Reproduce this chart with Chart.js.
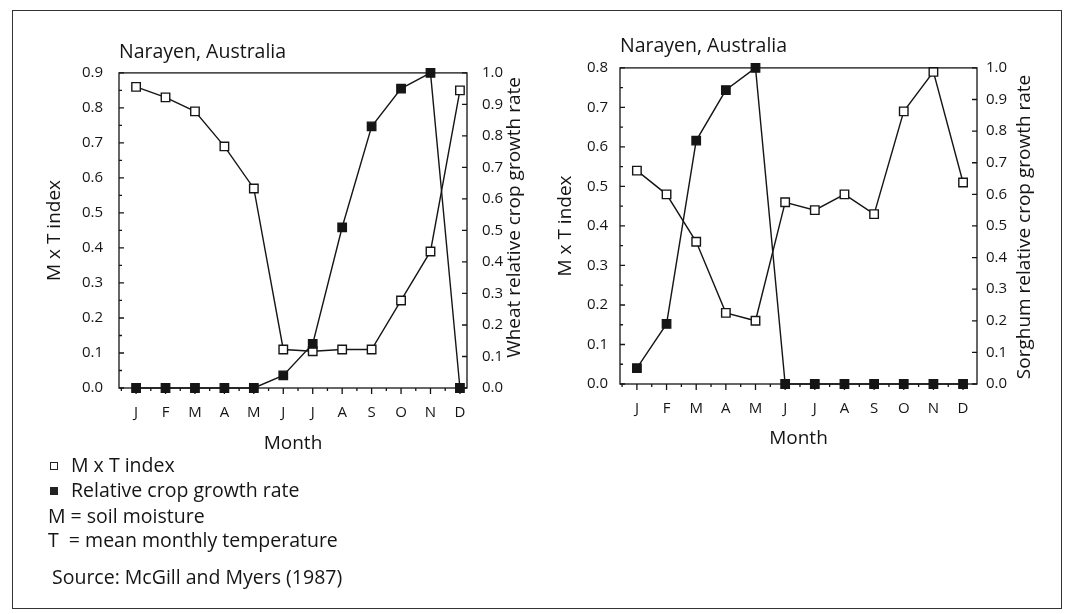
<!DOCTYPE html>
<html>
<head>
<meta charset="utf-8">
<title>Narayen, Australia - M x T index and crop growth rate</title>
<script src="https://cdn.jsdelivr.net/npm/chart.js"></script>
<style>
  body { margin: 0; background: #fff; font-family: "Open Sans", sans-serif; color: #151515; }
  #frame { position: absolute; left: 12px; top: 10px; width: 1050px; height: 599px; border: 1.5px solid #333; box-sizing: border-box; }
  canvas { position: absolute; top: 20px; }
  .note { position: absolute; font-size: 19.5px; line-height: 24px; white-space: pre; }
  .mark { display: inline-block; width: 6px; height: 6px; border: 1.5px solid #222; margin-right: 13px; vertical-align: 2px; }
  .mark.full { background: #222; }
</style>
</head>
<body>
<div id="frame"></div>
<canvas id="wheat" width="520" height="440" style="left:20px"></canvas>
<canvas id="sorghum" width="520" height="440" style="left:540px"></canvas>

<div class="note" style="left:50px; top:453px"><span class="mark"></span>M x T index</div>
<div class="note" style="left:50px; top:478px"><span class="mark full"></span>Relative crop growth rate</div>
<div class="note" style="left:48px; top:504px">M = soil moisture</div>
<div class="note" style="left:48px; top:528px">T  = mean monthly temperature</div>
<div class="note" style="left:52px; top:565px">Source: McGill and Myers (1987)</div>

<script>
// months along the bottom
var months = ['J', 'F', 'M', 'A', 'M', 'J', 'J', 'A', 'S', 'O', 'N', 'D'];

// wheat panel
var wheatMxT = [0.86, 0.83, 0.79, 0.69, 0.57, 0.11, 0.105, 0.11, 0.11, 0.25, 0.39, 0.85];
var wheatGrowth = [0, 0, 0, 0, 0, 0.04, 0.14, 0.51, 0.83, 0.95, 1.0, 0];

// sorghum panel
var sorghumMxT = [0.54, 0.48, 0.36, 0.18, 0.16, 0.46, 0.44, 0.48, 0.43, 0.69, 0.79, 0.51];
var sorghumGrowth = [0.05, 0.19, 0.77, 0.93, 1.0, 0, 0, 0, 0, 0, 0, 0];

var ink = '#151515';
var face = '"Open Sans", sans-serif';

function toPoints(values) {
    return values.map(function (v, i) { return { x: i + 1, y: v }; });
}

// plot box, tick marks and the right-hand title (reads bottom to top)
var frameTicks = {
    id: 'frameTicks',
    afterDraw: function (chart, args, opts) {
        var ctx = chart.ctx, a = chart.chartArea, s = chart.scales;
        ctx.save();
        ctx.strokeStyle = ink;
        ctx.lineWidth = 1.3;
        ctx.strokeRect(a.left, a.top, a.right - a.left, a.bottom - a.top);
        ctx.beginPath();
        for (var v = 0.5; v <= 12.5; v += 0.5) {
            var px = s.x.getPixelForValue(v);
            if (px < a.left || px > a.right) continue;
            var len = (v % 1 === 0) ? 6 : 3;
            ctx.moveTo(px, a.bottom);
            ctx.lineTo(px, a.bottom + len);
        }
        var yt = s.y.ticks;
        yt.forEach(function (t, i) {
            var py = s.y.getPixelForValue(t.value);
            ctx.moveTo(a.left, py);
            ctx.lineTo(a.left + 5, py);
            if (i > 0) {
                var mid = s.y.getPixelForValue((t.value + yt[i - 1].value) / 2);
                ctx.moveTo(a.left, mid);
                ctx.lineTo(a.left + 3, mid);
            }
        });
        s.y1.ticks.forEach(function (t) {
            var py = s.y1.getPixelForValue(t.value);
            ctx.moveTo(a.right, py);
            ctx.lineTo(a.right - 5, py);
        });
        ctx.stroke();

        ctx.translate(a.right + 48, (a.top + a.bottom) / 2 + opts.shift);
        ctx.rotate(-Math.PI / 2);
        ctx.font = '19px ' + face;
        ctx.fillStyle = ink;
        ctx.textAlign = 'center';
        ctx.textBaseline = 'middle';
        ctx.fillText(opts.text, 0, 0);
        ctx.restore();
    }
};

function makePanel(id, mxt, growth, p) {
    var ctx = document.getElementById(id).getContext('2d');
    return new Chart(ctx, {
        // The type of chart we want to create
        type: 'line',

        // The data for our dataset
        data: {
            datasets: [{
                label: 'Relative crop growth rate',
                data: toPoints(growth),
                yAxisID: 'y1',
                borderColor: ink,
                borderWidth: 1.4,
                pointStyle: 'rect',
                pointRadius: 6,
                pointBorderWidth: 1.3,
                pointBorderColor: ink,
                pointBackgroundColor: ink,
                clip: false
            }, {
                label: 'M x T index',
                data: toPoints(mxt),
                yAxisID: 'y',
                borderColor: ink,
                borderWidth: 1.4,
                pointStyle: 'rect',
                pointRadius: 6,
                pointBorderWidth: 1.4,
                pointBorderColor: ink,
                pointBackgroundColor: '#fff',
                clip: false
            }]
        },

        // Configuration options go here
        options: {
            responsive: false,
            animation: false,
            layout: { padding: 0 },
            plugins: {
                legend: { display: false },
                tooltip: { enabled: false },
                title: {
                    display: true,
                    text: 'Narayen, Australia',
                    align: 'start',
                    fullSize: false,
                    color: ink,
                    font: { family: face, size: 19.5, weight: 'normal' },
                    padding: { top: p.titleTop, bottom: p.titleBottom }
                },
                frameTicks: { text: p.rightTitle, shift: p.rightShift }
            },
            scales: {
                x: {
                    type: 'linear',
                    min: p.xMin,
                    max: p.xMax,
                    afterBuildTicks: function (s) {
                        s.ticks = months.map(function (m, i) { return { value: i + 1 }; });
                    },
                    ticks: {
                        autoSkip: false,
                        maxRotation: 0,
                        padding: 16,
                        color: ink,
                        font: { family: face, size: 15 },
                        callback: function (v, i) { return months[i]; }
                    },
                    grid: { display: false, drawTicks: false },
                    border: { display: false },
                    title: {
                        display: true,
                        text: 'Month',
                        color: ink,
                        font: { family: face, size: 19 },
                        padding: { top: 0, bottom: p.monthBottom }
                    },
                    afterFit: function (s) { s.height = p.xHeight; }
                },
                y: {
                    position: 'left',
                    min: 0,
                    max: p.yMax,
                    ticks: {
                        stepSize: 0.1,
                        padding: p.leftPad,
                        color: ink,
                        font: { family: face, size: 15 },
                        callback: function (v) { return v.toFixed(1); }
                    },
                    grid: { display: false, drawTicks: false },
                    border: { display: false },
                    title: {
                        display: true,
                        text: 'M x T index',
                        color: ink,
                        font: { family: face, size: 19 },
                        padding: { top: p.leftTitle, bottom: 0 }
                    },
                    afterFit: function (s) { s.width = p.leftWidth; }
                },
                y1: {
                    position: 'right',
                    min: 0,
                    max: 1,
                    ticks: {
                        stepSize: 0.1,
                        padding: p.rightPad,
                        color: ink,
                        font: { family: face, size: 15 },
                        callback: function (v) { return v.toFixed(1); }
                    },
                    grid: { display: false, drawTicks: false },
                    border: { display: false },
                    afterFit: function (s) { s.width = p.rightWidth; }
                }
            }
        },
        plugins: [frameTicks]
    });
}

// Wheat
var wheat = makePanel('wheat', wheatMxT, wheatGrowth, {
    titleTop: 21, titleBottom: 8.5,
    xMin: 0.42, xMax: 12.24, xHeight: 72, monthBottom: 5.5,
    yMax: 0.9, leftWidth: 99, leftPad: 16, leftTitle: 23.5,
    rightWidth: 73, rightPad: 15,
    rightTitle: 'Wheat relative crop growth rate', rightShift: -13
});

// Sorghum
var sorghum = makePanel('sorghum', sorghumMxT, sorghumGrowth, {
    titleTop: 15, titleBottom: 9.5,
    xMin: 0.43, xMax: 12.47, xHeight: 76, monthBottom: 10.5,
    yMax: 0.8, leftWidth: 80, leftPad: 12, leftTitle: 14.5,
    rightWidth: 83, rightPad: 9,
    rightTitle: 'Sorghum relative crop growth rate', rightShift: 1
});
</script>
</body>
</html>
